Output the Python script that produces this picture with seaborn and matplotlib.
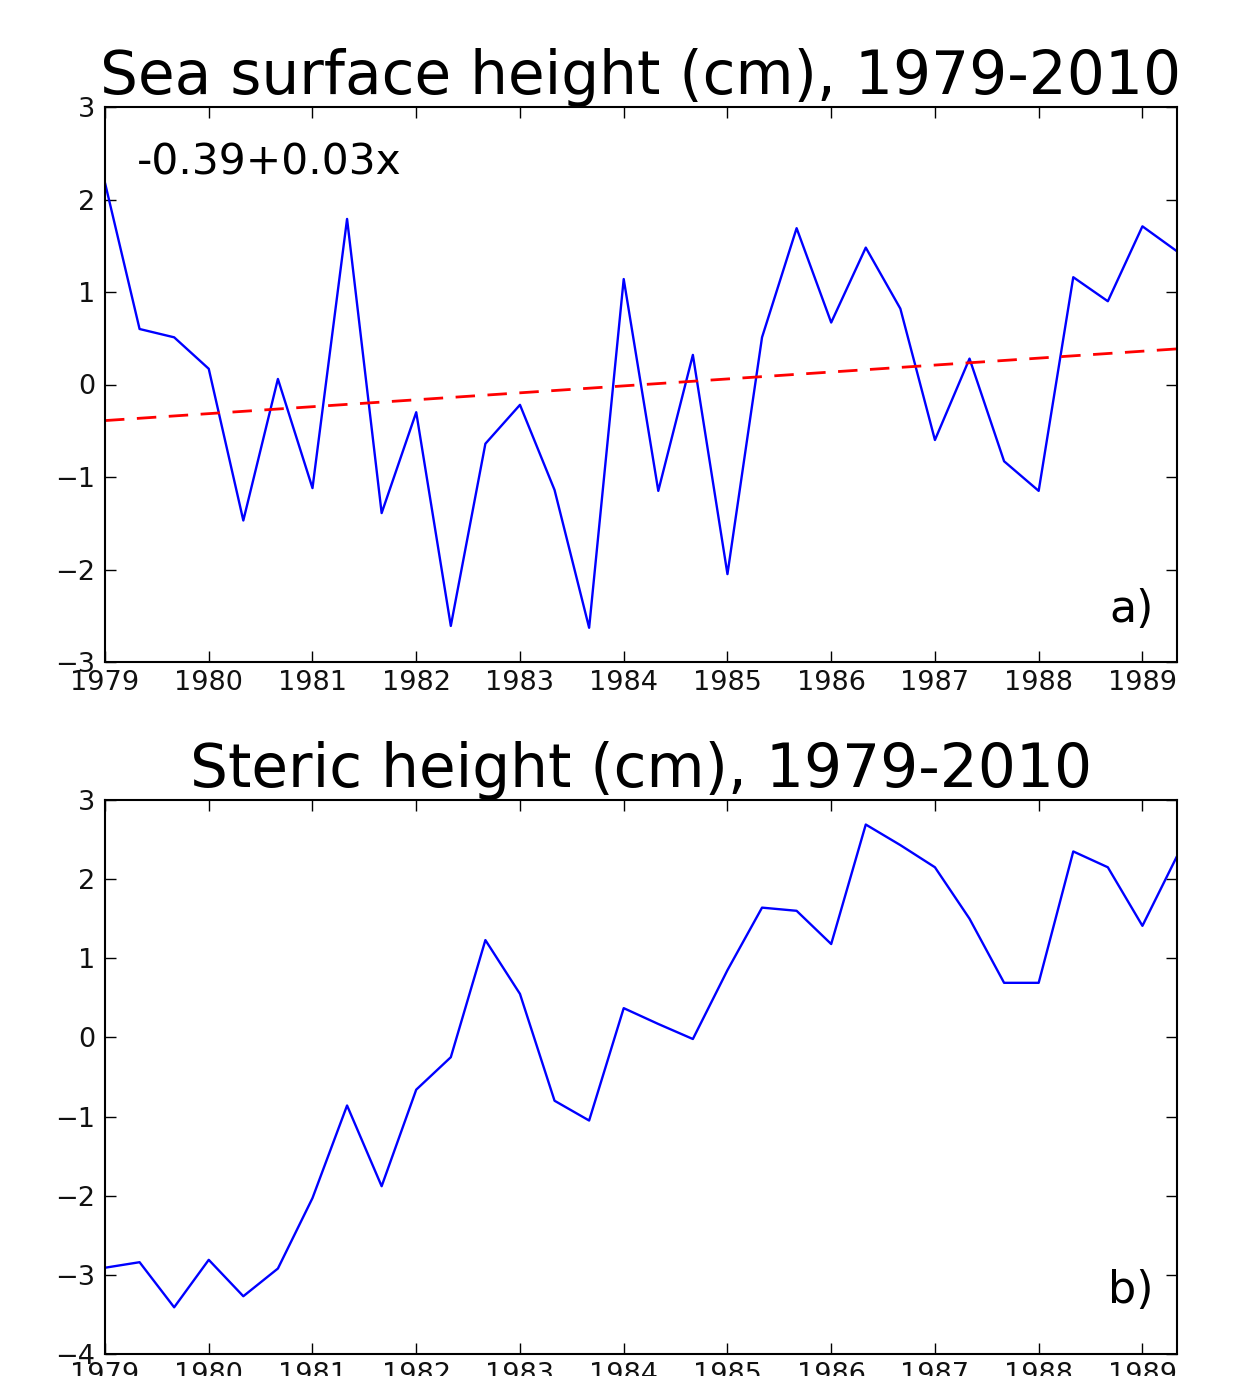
import numpy as np
import pandas as pd
import matplotlib
matplotlib.use("Agg")
import matplotlib.pyplot as plt
import seaborn as sns

# ---- data ----
start_year = 1979
steps_per_year = 3
ssh = [2.18, 0.60, 0.51, 0.17, -1.47, 0.06, -1.12, 1.79, -1.39, -0.30,
       -2.61, -0.64, -0.22, -1.14, -2.63, 1.14, -1.15, 0.32, -2.05, 0.51,
       1.69, 0.67, 1.48, 0.82, -0.60, 0.28, -0.83, -1.15, 1.16, 0.90,
       1.71, 1.44]
steric = [-2.91, -2.84, -3.41, -2.81, -3.27, -2.92, -2.03, -0.86, -1.88, -0.66,
          -0.25, 1.23, 0.55, -0.80, -1.05, 0.37, 0.17, -0.02, 0.85, 1.64,
          1.60, 1.18, 2.69, 2.43, 2.15, 1.50, 0.69, 0.69, 2.35, 2.15,
          1.41, 2.29]
trend_intercept = -0.39
trend_slope = 0.025
trend_label = "-0.39+0.03x"
year_ticks = list(range(1979, 1990))
title_a = "Sea surface height (cm), 1979-2010"
title_b = "Steric height (cm), 1979-2010"

idx = np.arange(len(ssh))
time = start_year + idx / steps_per_year
df = pd.DataFrame({"time": time, "ssh": ssh, "steric": steric,
                   "trend": trend_intercept + trend_slope * idx})

sns.set_style("ticks")
plt.rcParams["font.family"] = ["DejaVu Sans"]
plt.rcParams.update({
    "text.color": "black", "axes.labelcolor": "black",
    "xtick.direction": "in", "ytick.direction": "in",
    "xtick.top": True, "ytick.right": True,
    "xtick.major.size": 8, "ytick.major.size": 8,
    "xtick.major.width": 1.0, "ytick.major.width": 1.0,
    "xtick.color": "black", "ytick.color": "black",
    "xtick.labelcolor": "#111111", "ytick.labelcolor": "#111111",
    "xtick.labelsize": 19.5, "ytick.labelsize": 19.5,
    "axes.edgecolor": "black", "axes.linewidth": 1.5,
    "xtick.major.pad": 6, "ytick.major.pad": 7,
})

W, H = 1254, 1376
fig = plt.figure(figsize=(W / 100, H / 100), dpi=100)
ax1 = fig.add_axes([105 / W, (H - 662) / H, (1177 - 105) / W, 555 / H])
ax2 = fig.add_axes([105 / W, (H - 1354) / H, (1177 - 105) / W, 554 / H])

sns.lineplot(data=df, x="time", y="ssh", ax=ax1, color="#0000ff", lw=1.7)
sns.lineplot(data=df, x="time", y="trend", ax=ax1, color="#ff0000", lw=2.0,
             dashes=False, linestyle=(0, (7, 4.5)))
sns.lineplot(data=df, x="time", y="steric", ax=ax2, color="#0000ff", lw=1.7)

for ax, ylim, title in [(ax1, (-3, 3), title_a), (ax2, (-4, 3), title_b)]:
    ax.set_xlim(time[0], time[-1])
    ax.set_ylim(*ylim)
    ax.set_xticks(year_ticks)
    ax.set_xticklabels([str(y) for y in year_ticks])
    ax.set_yticks(range(ylim[0], ylim[1] + 1))
    ax.set_xlabel("")
    ax.set_ylabel("")
    ax.set_title(title, fontsize=43, pad=4, color="black")
    for s in ax.spines.values():
        s.set_visible(True)

ax1.text(0.030, 0.90, trend_label, transform=ax1.transAxes, fontsize=30.5,
         ha="left", va="center", color="black")
ax1.text(0.978, 0.095, "a)", transform=ax1.transAxes, fontsize=32,
         ha="right", va="center", color="black")
ax2.text(0.978, 0.115, "b)", transform=ax2.transAxes, fontsize=32,
         ha="right", va="center", color="black")

fig.savefig("out.png", dpi=100)
